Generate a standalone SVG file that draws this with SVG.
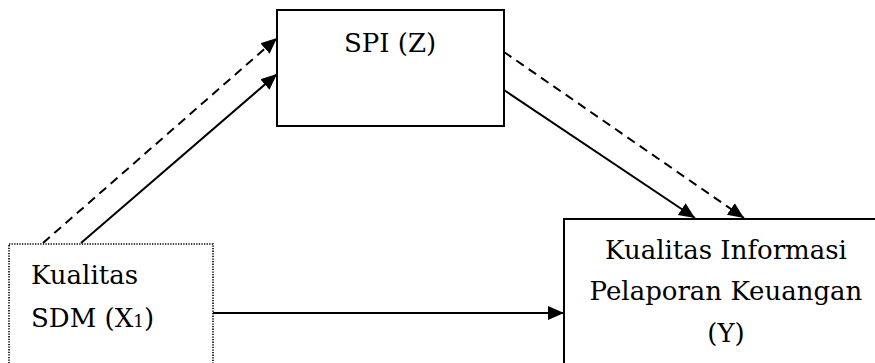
<svg xmlns="http://www.w3.org/2000/svg" width="875" height="363" viewBox="0 0 875 363">
  <style>
    .box { fill: #ffffff; stroke: #000000; stroke-width: 2; }
    .dotted { fill: #ffffff; stroke: #000000; stroke-width: 1.6; stroke-dasharray: 1.3 1.3; }
    text { font-family: "DejaVu Serif", "Liberation Serif", serif; font-size: 26px; fill: #000000; }
    .mid { text-anchor: middle; }
    .link { fill: none; stroke: #000000; stroke-width: 2; marker-end: url(#head); }
    .dash { stroke-dasharray: 9 6; }
  </style>
  <defs>
    <marker id="head" markerUnits="userSpaceOnUse" markerWidth="18" markerHeight="16" refX="16" refY="8" orient="auto">
      <path d="M0,1 L16,8 L0,15 Z" fill="#000000"/>
    </marker>
  </defs>

  <g id="node-z">
    <rect class="box" x="277" y="10" width="227" height="116"/>
    <text class="mid" x="390" y="52">SPI (Z)</text>
  </g>

  <g id="node-x1">
    <rect class="dotted" x="9" y="244" width="204" height="130"/>
    <text x="31" y="284">Kualitas</text>
    <text x="31" y="327">SDM (X<tspan font-size="17px">1</tspan>)</text>
  </g>

  <g id="node-y">
    <rect class="box" x="564" y="219" width="330" height="160"/>
    <text class="mid" x="726" y="259">Kualitas Informasi</text>
    <text class="mid" x="726" y="300">Pelaporan Keuangan</text>
    <text class="mid" x="726" y="342">(Y)</text>
  </g>

  <g id="connectors">
    <line class="link dash" x1="43" y1="243" x2="277" y2="38"/>
    <line class="link" x1="81" y1="243" x2="277" y2="74"/>
    <line class="link dash" x1="504" y1="52" x2="744" y2="218"/>
    <line class="link" x1="504" y1="90" x2="695" y2="218"/>
    <line class="link" x1="213" y1="313" x2="564" y2="313"/>
  </g>
</svg>
